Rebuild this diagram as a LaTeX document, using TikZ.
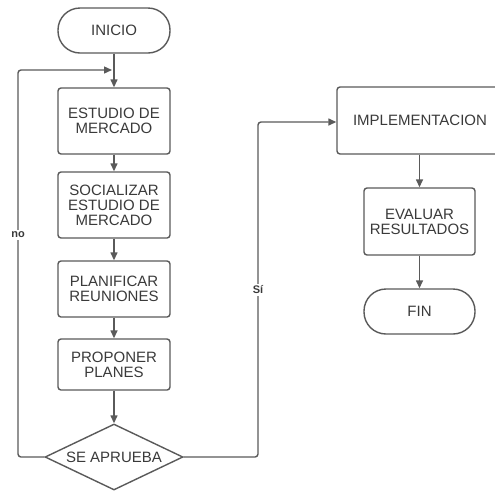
\documentclass[tikz,border=0pt]{standalone}
\usepackage{fontspec}
\setmainfont{Liberation Sans}
\usetikzlibrary{arrows.meta,shapes.geometric,positioning}
\definecolor{linegray}{HTML}{5A5A5A}
\definecolor{textgray}{HTML}{3A3A3A}
\tikzset{
  base/.style={draw=linegray, line width=1.4pt, text=textgray, align=center,
    font=\fontsize{15}{15}\selectfont, inner sep=0pt},
  process/.style={base, rounded corners=3pt, minimum width=112pt},
  terminal/.style={base, rounded corners=22pt, minimum width=112pt, minimum height=45pt},
  decision/.style={base, diamond, aspect=2.09, minimum width=138pt, minimum height=66pt},
  flow/.style={draw=linegray, line width=1.4pt, -{Triangle[length=8pt,width=7pt]}},
  branch/.style={font=\bfseries\fontsize{11}{12}\selectfont, text=textgray, fill=white, inner sep=1.5pt}
}
\begin{document}
\begin{tikzpicture}[x=1pt,y=-1pt]
  \useasboundingbox (0,0) rectangle (495,491);
  \clip (0,0) rectangle (495,491);
  \fill[white] (0,0) rectangle (495,491);

  % main column
  \node[terminal] (inicio) at (114,30.5) {INICIO};
  \node[process, minimum height=66pt] (estudio) at (114,121) {ESTUDIO DE\\MERCADO};
  \node[process, minimum height=66pt] (social) at (114,205) {SOCIALIZAR\\ESTUDIO DE\\MERCADO};
  \node[process, minimum height=56pt] (planif) at (114,289) {PLANIFICAR\\REUNIONES};
  \node[process, minimum height=51pt] (propon) at (114,364.5) {PROPONER\\PLANES};
  \node[decision] (aprueba) at (114,457) {SE APRUEBA};

  % right column
  \node[process, minimum width=166pt, minimum height=67pt] (impl) at (420,120.5) {IMPLEMENTACION};
  \node[process, minimum width=111pt, minimum height=67pt] (evaluar) at (419.5,221.5) {EVALUAR\\RESULTADOS};
  \node[terminal, minimum width=111pt] (fin) at (419.5,311.5) {FIN};

  % loop-back merge point
  \coordinate (merge) at (112,70);
  \coordinate (nocorner) at (18,70);
  \coordinate (sicorner) at (258,122);

  % straight flow
  \draw[flow] (inicio) -- (estudio);
  \draw[flow] (estudio) -- (social);
  \draw[flow] (social) -- (planif);
  \draw[flow] (propon) -- (aprueba);
  \draw[flow] (planif) -- (propon);
  \draw[flow] (impl.south -| evaluar) -- (evaluar);
  \draw[flow] (evaluar) -- (fin);

  % "no" branch back to the top
  \draw[flow, rounded corners=3pt] (aprueba.west) -| (nocorner) -- (merge);
  \node[branch] at (18,235) {no};

  % "Sí" branch to implementation
  \draw[flow, rounded corners=3pt] (aprueba.east) -| (sicorner) -- (impl.west |- sicorner);
  \node[branch] at (258,290) {Sí};
\end{tikzpicture}
\end{document}
